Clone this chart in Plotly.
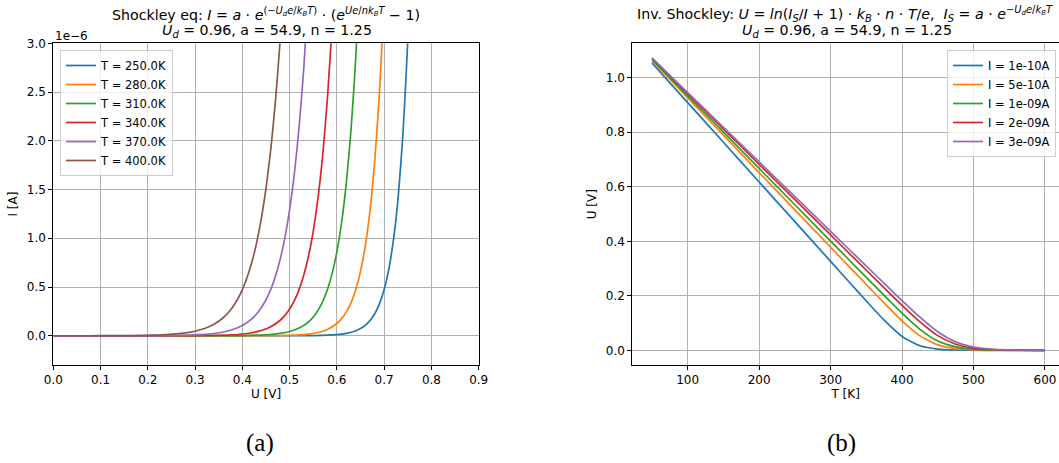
import plotly.graph_objects as go

# ---- Panel (a): diode current I(U) for several temperatures (current in 1e-6 A) ----
temps_a = [250.0, 280.0, 310.0, 340.0, 370.0, 400.0]

u_250 = [0.0, 0.4, 0.5, 0.55, 0.6, 0.62, 0.64, 0.65, 0.66, 0.67, 0.68, 0.69, 0.70,
         0.71, 0.72, 0.73, 0.74, 0.75, 0.76]
i_250 = [0.0, 0.00001, 0.00028, 0.0018, 0.0116, 0.0243, 0.0510, 0.0740, 0.1073,
         0.1555, 0.2254, 0.3268, 0.4737, 0.6868, 0.9956, 1.443, 2.092, 3.033, 4.397]

u_280 = [0.0, 0.4, 0.45, 0.50, 0.52, 0.54, 0.56, 0.58, 0.60, 0.61, 0.62, 0.63, 0.64,
         0.65, 0.66, 0.67, 0.68, 0.69, 0.70, 0.71]
i_280 = [0.0, 0.00017, 0.00087, 0.00457, 0.00888, 0.0172, 0.0334, 0.0649, 0.1260,
         0.1755, 0.2445, 0.3407, 0.4747, 0.6613, 0.9213, 1.2836, 1.7883, 2.4914,
         3.471, 4.836]

u_310 = [0.0, 0.3, 0.35, 0.40, 0.44, 0.46, 0.48, 0.50, 0.52, 0.54, 0.55, 0.56, 0.57,
         0.58, 0.59, 0.60, 0.61, 0.62, 0.63, 0.64, 0.65]
i_310 = [0.0, 0.0001, 0.00048, 0.00216, 0.00716, 0.0130, 0.0237, 0.0432, 0.0786,
         0.1431, 0.1930, 0.2604, 0.3514, 0.4741, 0.6396, 0.8630, 1.1643, 1.5709,
         2.1195, 2.8596, 3.858]

u_340 = [0.0, 0.2, 0.25, 0.30, 0.35, 0.38, 0.40, 0.42, 0.44, 0.46, 0.48, 0.49, 0.50,
         0.51, 0.52, 0.53, 0.54, 0.55, 0.56, 0.57, 0.58, 0.59, 0.60]
i_340 = [0.0, 0.00008, 0.0003, 0.00117, 0.00458, 0.0104, 0.0179, 0.0309, 0.0533,
         0.0920, 0.1589, 0.2087, 0.2743, 0.3604, 0.4736, 0.6223, 0.8177, 1.0744,
         1.4118, 1.8551, 2.4376, 3.203, 4.209]

u_370 = [0.0, 0.1, 0.15, 0.20, 0.25, 0.30, 0.32, 0.34, 0.36, 0.38, 0.40, 0.42, 0.43,
         0.44, 0.45, 0.46, 0.47, 0.48, 0.49, 0.50, 0.51, 0.52, 0.53, 0.54]
i_370 = [0.0, 0.00006, 0.0002, 0.0007, 0.00245, 0.0086, 0.0142, 0.0234, 0.0386,
         0.0638, 0.1053, 0.1739, 0.2235, 0.2873, 0.3692, 0.4745, 0.6099, 0.7838,
         1.0073, 1.2946, 1.6639, 2.1384, 2.7482, 3.532]

u_400 = [0.0, 0.05, 0.10, 0.15, 0.20, 0.22, 0.24, 0.26, 0.28, 0.30, 0.32, 0.34, 0.36,
         0.37, 0.38, 0.39, 0.40, 0.41, 0.42, 0.43, 0.44, 0.45, 0.46, 0.47, 0.48, 0.49]
i_400 = [0.0, 0.00014, 0.00045, 0.00144, 0.0046, 0.0073, 0.0116, 0.0184, 0.0292,
         0.0465, 0.0740, 0.1177, 0.1872, 0.2362, 0.2979, 0.3757, 0.4739, 0.5977,
         0.7538, 0.9508, 1.1992, 1.5126, 1.9078, 2.4063, 3.035, 3.828]

u_curves = [u_250, u_280, u_310, u_340, u_370, u_400]
i_curves = [i_250, i_280, i_310, i_340, i_370, i_400]

# ---- Panel (b): voltage U(T) for several currents ----
currents_b = ["1e-10", "5e-10", "1e-09", "2e-09", "3e-09"]
t_grid = [50, 100, 150, 200, 250, 300, 325, 350, 375, 400, 425, 450, 475, 500,
          525, 550, 575, 600]
v_1e10 = [1.0544, 0.9088, 0.7633, 0.6177, 0.4721, 0.3265, 0.2537, 0.1812, 0.1108,
          0.0511, 0.0168, 0.0047, 0.0014, 0.0005, 0.0002, 0.0001, 0.0000, 0.0000]
v_5e10 = [1.0631, 0.9262, 0.7893, 0.6523, 0.5154, 0.3785, 0.3101, 0.2417, 0.1737,
          0.1083, 0.0533, 0.0201, 0.0067, 0.0023, 0.0008, 0.0003, 0.0001, 0.0001]
v_1e9 = [1.0668, 0.9336, 0.8005, 0.6673, 0.5341, 0.4009, 0.3343, 0.2677, 0.2015,
         0.1365, 0.0773, 0.0343, 0.0126, 0.0045, 0.0017, 0.0007, 0.0003, 0.0001]
v_2e9 = [1.0706, 0.9411, 0.8117, 0.6822, 0.5528, 0.4233, 0.3586, 0.2939, 0.2293,
         0.1653, 0.1046, 0.0542, 0.0227, 0.0086, 0.0033, 0.0013, 0.0006, 0.0003]
v_3e9 = [1.0727, 0.9455, 0.8182, 0.6910, 0.5637, 0.4364, 0.3728, 0.3092, 0.2456,
         0.1825, 0.1216, 0.0683, 0.0312, 0.0124, 0.0049, 0.0020, 0.0009, 0.0004]
v_curves = [v_1e10, v_5e10, v_1e9, v_2e9, v_3e9]

colors = ["#1f77b4", "#ff7f0e", "#2ca02c", "#d62728", "#9467bd", "#8c564b"]
FONT = "DejaVu Sans"
W, H = 1059, 463
TICK_SIZE = 12
LEG_SIZE = 11.5
TITLE_SIZE = 14.2

fig = go.Figure()

for k, T in enumerate(temps_a):
    fig.add_trace(go.Scatter(
        x=u_curves[k], y=i_curves[k], mode="lines",
        line=dict(color=colors[k], width=1.7, shape="spline", smoothing=0.6),
        name=f"T = {T:.1f}K", xaxis="x", yaxis="y", legend="legend"))

for k, lab in enumerate(currents_b):
    fig.add_trace(go.Scatter(
        x=t_grid, y=v_curves[k], mode="lines",
        line=dict(color=colors[k], width=1.7, shape="spline", smoothing=0.6),
        name=f"I = {lab}A", xaxis="x2", yaxis="y2", legend="legend2"))

axis_common = dict(
    showline=True, linecolor="black", linewidth=0.9, mirror=True,
    ticks="outside", ticklen=4, tickwidth=0.9, tickcolor="black",
    showgrid=True, gridcolor="#b0b0b0", gridwidth=0.9, zeroline=False,
    tickfont=dict(family=FONT, size=TICK_SIZE, color="black"), automargin=False,
)

ydom = [1 - 365 / H, 1 - 43.3 / H]
lab_font = dict(family=FONT, size=TICK_SIZE, color="black")
fig.update_layout(
    width=W, height=H, margin=dict(l=0, r=0, t=0, b=0),
    paper_bgcolor="white", plot_bgcolor="white",
    font=dict(family=FONT, size=TICK_SIZE, color="black"),
    xaxis=dict(domain=[53.3 / W, 478.7 / W], range=[0, 0.9], dtick=0.1,
               tickformat=".1f", anchor="y",
               title=dict(text="U [V]", font=lab_font, standoff=3),
               **axis_common),
    yaxis=dict(domain=ydom, range=[-0.3, 3.0], dtick=0.5, tickformat=".1f",
               anchor="x", title=dict(text="I [A]", font=lab_font, standoff=6),
               **axis_common),
    xaxis2=dict(domain=[632.3 / W, 1.0], range=[22.5, 619.6],
                tickvals=[100, 200, 300, 400, 500, 600], anchor="y2",
                title=dict(text="T [K]", font=lab_font, standoff=3),
                **axis_common),
    yaxis2=dict(domain=ydom, range=[-0.0536, 1.1263], dtick=0.2, tickformat=".1f",
                anchor="x2", title=dict(text="U [V]", font=lab_font, standoff=6),
                **axis_common),
    legend=dict(x=60 / W, y=1 - 50 / H, xanchor="left", yanchor="top",
                bgcolor="rgba(255,255,255,0.8)", bordercolor="#cccccc",
                borderwidth=1, font=dict(family=FONT, size=LEG_SIZE),
                tracegroupgap=0, itemwidth=30),
    legend2=dict(x=1056 / W, y=1 - 50 / H, xanchor="right", yanchor="top",
                 bgcolor="rgba(255,255,255,0.8)", bordercolor="#cccccc",
                 borderwidth=1, font=dict(family=FONT, size=LEG_SIZE),
                 tracegroupgap=0, itemwidth=30),
)

title_a1 = ("Shockley eq: <i>I</i> = <i>a</i> · <i>e</i><sup>(−<i>U<sub>d</sub>"
            "e</i>/<i>k<sub>B</sub>T</i>)</sup> · (<i>e</i><sup><i>Ue</i>/"
            "<i>nk<sub>B</sub>T</i></sup> − 1)")
title_b1 = ("Inv. Shockley: <i>U</i> = <i>ln</i>(<i>I<sub>S</sub></i>/<i>I</i> + 1) · "
            "<i>k<sub>B</sub></i> · <i>n</i> · <i>T</i>/<i>e</i>,  <i>I<sub>S</sub></i>"
            " = <i>a</i> · <i>e</i><sup>−<i>U<sub>d</sub>e</i>/<i>k"
            "<sub>B</sub>T</i></sup>")
title_2 = "<i>U<sub>d</sub></i> = 0.96, a = 54.9, n = 1.25"

ann = [
    dict(text=title_a1, x=266 / W, y=1 - 14 / H),
    dict(text=title_2, x=267 / W, y=1 - 31 / H),
    dict(text=title_b1, x=845 / W, y=1 - 14 / H),
    dict(text=title_2, x=847 / W, y=1 - 31 / H),
]
for a in ann:
    fig.add_annotation(xref="paper", yref="paper", showarrow=False,
                       xanchor="center", yanchor="middle",
                       font=dict(family=FONT, size=TITLE_SIZE, color="black"), **a)

# offset label of the current axis
fig.add_annotation(text="1e−6", xref="paper", yref="paper", x=53 / W, y=1 - 36 / H,
                   xanchor="left", yanchor="middle", showarrow=False,
                   font=dict(family=FONT, size=TICK_SIZE, color="black"))

# sub-figure captions
for txt, xc in [("(a)", 260), ("(b)", 841)]:
    fig.add_annotation(text=txt, xref="paper", yref="paper", x=xc / W, y=1 - 443 / H,
                       xanchor="center", yanchor="middle", showarrow=False,
                       font=dict(family="Liberation Serif", size=25, color="black"))

fig.write_html("out.html")
